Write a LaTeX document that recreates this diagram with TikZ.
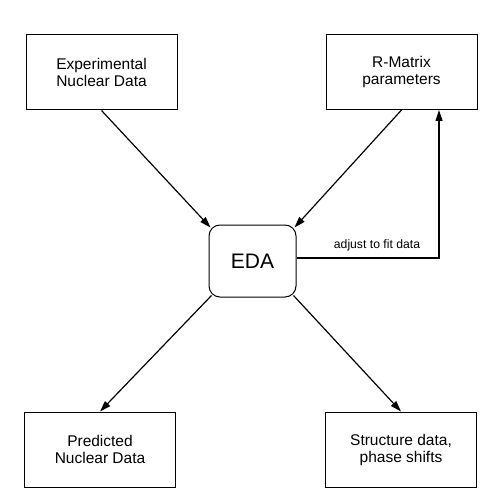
\documentclass[tikz,border=0pt]{standalone}
\usepackage{fontspec}
\setmainfont{Liberation Sans}
\usetikzlibrary{arrows.meta, calc}

\tikzset{
    databox/.style={draw, line width=1pt, minimum width=151pt, minimum height=75pt, align=center, font=\fontsize{15.5}{17}\selectfont},
    edabox/.style={draw, line width=1pt, rounded corners=11pt, minimum width=87pt, minimum height=72pt, font=\fontsize{21}{23}\selectfont},
    flowarrow/.style={-{Triangle[length=11pt, width=7pt]}, line width=1.2pt, black}
}

\begin{document}
\begin{tikzpicture}[x=1pt, y=-1pt]
            \useasboundingbox (0, 0) rectangle (480, 489);

            \node[databox] (expdata) at (101.5, 72.5) {Experimental\\Nuclear Data};
            \node[databox] (rmatrix) at (401.5, 72) {R-Matrix\\parameters};
            \node[databox] (preddata) at (100, 449.5) {Predicted\\Nuclear Data};
            \node[databox] (structdata) at (401, 449.5) {Structure data,\\phase shifts};

            \node[edabox] (eda) at (252.5, 261) {EDA};

            \draw[flowarrow] (expdata.south) -- ([shift={(2pt, -3pt)}]eda.north west);
            \draw[flowarrow] (rmatrix.south) -- ([shift={(-2pt, -3pt)}]eda.north east);
            \draw[flowarrow] ([shift={(3pt, 2pt)}]eda.south west) -- (preddata.north);
            \draw[flowarrow] ([shift={(-3pt, 2pt)}]eda.south east) -- (structdata.north);

            \coordinate (fitcorner) at (439, 258);
            \draw[flowarrow] ([yshift=3pt]eda.east) -- (fitcorner) -- (fitcorner |- rmatrix.south);
            \node[font=\fontsize{12.2}{14}\selectfont] (fitlabel) at (377, 245) {adjust to fit data};

        \end{tikzpicture}
\end{document}
